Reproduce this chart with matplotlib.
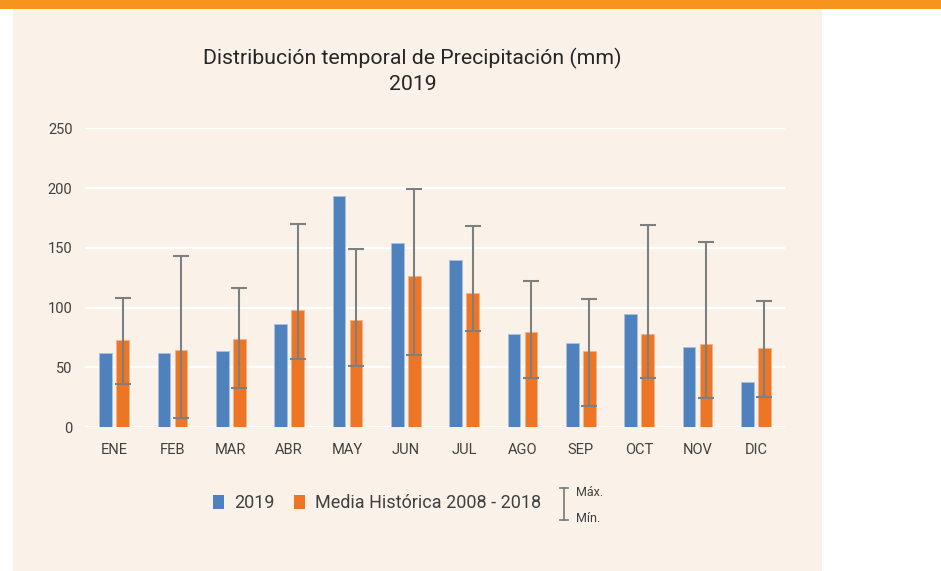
import matplotlib
matplotlib.use('Agg')
import matplotlib.pyplot as plt
import numpy as np
from matplotlib.patches import Rectangle, Patch
from matplotlib.lines import Line2D

meses = ['ENE', 'FEB', 'MAR', 'ABR', 'MAY', 'JUN', 'JUL', 'AGO', 'SEP', 'OCT', 'NOV', 'DIC']
p2019 = [62.4, 62.1, 63.5, 86.7, 193.1, 153.8, 139.6, 77.8, 70.8, 94.5, 66.9, 37.6]
media = [72.7, 64.4, 73.6, 97.8, 89.5, 126.5, 112.0, 79.7, 63.8, 77.8, 69.7, 66.3]
maximo = [108.4, 143.0, 116.5, 170.3, 149.1, 199.3, 168.3, 122.4, 107.3, 169.2, 155.0, 105.9]
minimo = [35.9, 7.8, 33.2, 57.1, 51.0, 60.5, 80.3, 41.0, 17.8, 41.0, 24.2, 25.4]
yticks = [0, 50, 100, 150, 200, 250]

AZUL = '#4F81BD'
NARANJA = '#ED7626'
GRIS = '#7F7F7F'
FONDO = '#FAF2E8'
TEXTO = '#404040'

plt.rcParams['font.family'] = ['Roboto', 'DejaVu Sans']

fig = plt.figure(figsize=(9.41, 5.71), dpi=100)
fig.patch.set_facecolor('white')
# panel beige y franja naranja superior
fig.add_artist(Rectangle((13/941, 0), (822-13)/941, 1 - 9/571, transform=fig.transFigure,
                         facecolor=FONDO, edgecolor='none', zorder=0))
fig.add_artist(Rectangle((0, 1 - 9/571), 1, 9/571, transform=fig.transFigure,
                         facecolor='#F7941D', edgecolor='none', zorder=0))

ax = fig.add_axes([0.0903, 0.2517, 0.7439, 0.5236])
ax.set_facecolor('none')
x = np.arange(len(meses))
w = 0.22
ax.bar(x - 0.145, p2019, width=w, color=AZUL, edgecolor='#A9C1E0', linewidth=0.6, zorder=3)
ax.bar(x + 0.145, media, width=w, color=NARANJA, edgecolor='#F4B48A', linewidth=0.6, zorder=3)
med = np.array(media)
yerr = [med - np.array(minimo), np.array(maximo) - med]
ax.errorbar(x + 0.145, media, yerr=yerr, fmt='none', ecolor=GRIS, elinewidth=1.5,
            capsize=5.8, capthick=1.5, zorder=4)

ax.set_xlim(-0.5, len(meses) - 0.5)
ax.set_ylim(0, 250)
ax.set_yticks(yticks)
ax.set_xticks(x)
ax.set_xticklabels(meses)
ax.grid(axis='y', color='white', linewidth=1.6, zorder=1)
ax.set_axisbelow(True)
for s in ax.spines.values():
    s.set_visible(False)
ax.tick_params(axis='both', length=0, labelsize=10.5, colors=TEXTO)
ax.tick_params(axis='y', pad=9)
ax.tick_params(axis='x', pad=11)

fig.text(412.5/941, 1 - 58/571, 'Distribución temporal de Precipitación (mm)', ha='center', va='center',
         fontsize=15.3, color='#262626')
fig.text(412.5/941, 1 - 85/571, '2019', ha='center', va='center', fontsize=15.3, color='#262626')

handles = [Patch(facecolor=AZUL, edgecolor='none'), Patch(facecolor=NARANJA, edgecolor='none')]
fig.legend(handles, ['2019', 'Media Histórica 2008 - 2018'], loc='center',
           bbox_to_anchor=(377/941, 1 - 503/571), ncol=2, frameon=False, fontsize=13,
           handlelength=0.6, handleheight=0.85, handletextpad=0.55, columnspacing=1.1,
           labelcolor=TEXTO)

# simbolo max / min
xs = 564/941
y1, y2 = 1 - 488/571, 1 - 520/571
cw = 4/941
fig.add_artist(Line2D([xs, xs], [y1, y2], transform=fig.transFigure, color=GRIS, lw=1.3))
fig.add_artist(Line2D([xs - cw, xs + cw], [y1, y1], transform=fig.transFigure, color=GRIS, lw=1.3))
fig.add_artist(Line2D([xs - cw, xs + cw], [y2, y2], transform=fig.transFigure, color=GRIS, lw=1.3))
fig.text(576/941, 1 - 493/571, 'Máx.', ha='left', va='center', fontsize=9, color=TEXTO)
fig.text(576/941, 1 - 519/571, 'Mín.', ha='left', va='center', fontsize=9, color=TEXTO)

fig.savefig('out.png', dpi=100, facecolor=fig.get_facecolor())
